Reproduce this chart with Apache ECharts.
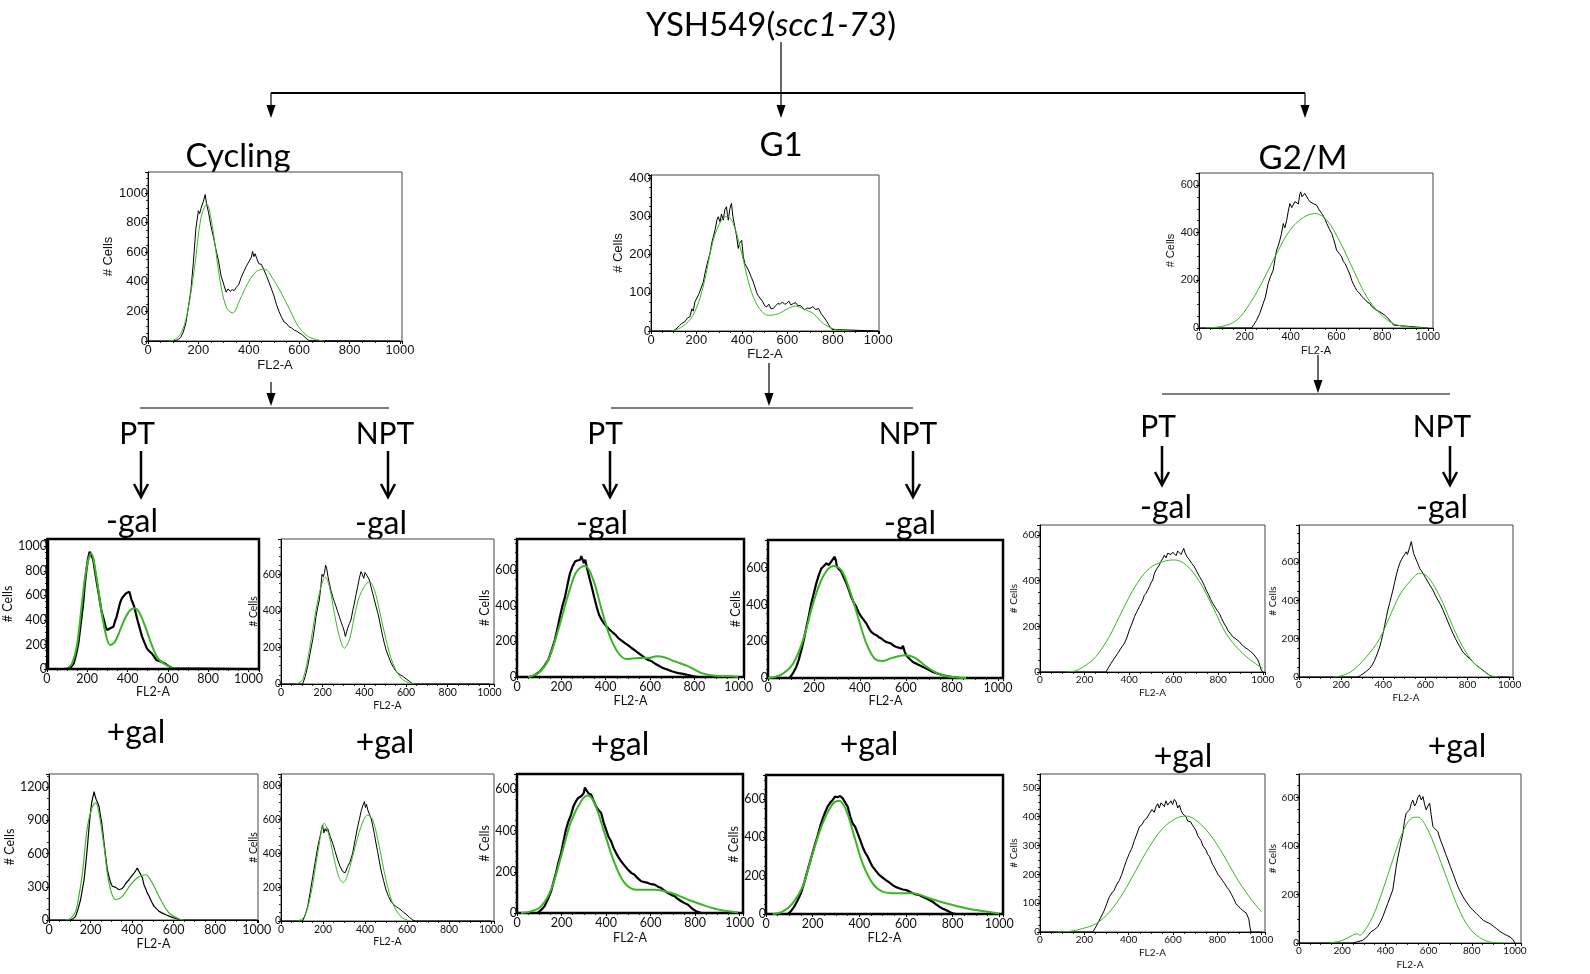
<!DOCTYPE html>
<html><head><meta charset="utf-8">
<script src="https://cdn.jsdelivr.net/npm/echarts/dist/echarts.min.js"></script>
<style>html,body{margin:0;padding:0;background:#fff}#c{width:1590px;height:974px}</style>
</head><body><div id="c"></div>
<script>
// ===== DATA: [FL2-A, #Cells] =====
// Top row
const cycTopK=[[0,0],[100,0],[110,3],[120,10],[130,25],[140,60],[150,120],[160,225],[170,340],[180,530],[190,760],[200,880],[205,860],[210,895],[220,945],[227,990],[232,930],[240,870],[250,775],[260,700],[270,615],[280,540],[290,440],[300,385],[310,330],[318,352],[326,335],[334,348],[342,340],[350,362],[360,380],[370,430],[380,468],[390,505],[400,535],[410,565],[415,605],[420,570],[425,590],[432,556],[440,522],[450,518],[460,480],[470,440],[480,398],[490,352],[500,305],[510,245],[520,200],[530,160],[540,128],[550,118],[560,96],[570,88],[580,74],[590,66],[600,55],[610,45],[620,30],[630,15],[640,2],[1000,0]];
const cycTopG=[[80,0],[100,5],[130,50],[155,180],[185,500],[210,830],[233,925],[255,780],[283,440],[310,230],[336,190],[365,280],[396,390],[430,470],[463,485],[496,420],[530,320],[563,210],[596,100],[636,30],[680,5],[700,0]];
const g1TopK=[[0,0],[97,0],[110,5],[125,14],[134,19],[150,25],[160,34],[171,37],[180,58],[186,52],[193,76],[200,78],[210,96],[222,115],[230,128],[240,158],[251,185],[260,205],[268,232],[274,246],[282,265],[290,290],[296,299],[304,285],[310,306],[318,290],[325,318],[332,325],[336,305],[340,290],[347,320],[354,334],[360,300],[369,272],[376,250],[384,216],[390,230],[399,237],[406,195],[413,176],[420,172],[428,160],[435,159],[442,140],[450,128],[457,115],[465,100],[472,92],[479,89],[490,78],[500,66],[509,63],[518,70],[528,58],[538,59],[548,66],[558,72],[568,70],[578,76],[588,70],[597,72],[606,78],[616,68],[626,72],[636,74],[646,66],[656,67],[666,62],[676,55],[688,60],[700,59],[712,64],[724,56],[737,59],[748,46],[759,37],[770,28],[780,18],[788,10],[796,4],[803,0],[1000,0]];
const g1TopG=[[90,0],[134,10],[185,41],[229,115],[274,238],[310,290],[335,300],[362,281],[399,203],[435,115],[472,63],[516,41],[560,45],[600,58],[634,65],[670,58],[715,45],[759,19],[818,3],[876,0]];
const g2TopK=[[0,0],[229,0],[240,15],[251,32],[265,60],[280,102],[290,130],[302,186],[312,215],[324,242],[332,290],[339,326],[346,345],[353,368],[360,395],[368,438],[375,420],[383,452],[390,490],[397,522],[405,505],[412,500],[419,530],[426,536],[434,520],[440,560],[444,571],[450,550],[455,543],[462,565],[470,557],[477,540],[485,529],[492,535],[499,522],[507,528],[514,515],[522,500],[529,495],[536,480],[544,468],[551,455],[558,438],[565,445],[572,410],[580,396],[587,375],[594,352],[601,326],[608,322],[616,308],[623,298],[630,280],[638,270],[645,256],[652,240],[660,222],[667,200],[674,185],[682,170],[689,158],[696,150],[704,142],[711,132],[718,130],[725,120],[733,110],[740,104],[747,102],[755,90],[762,82],[770,78],[777,74],[785,70],[792,66],[799,62],[806,60],[814,52],[821,44],[828,38],[835,32],[842,22],[850,12],[857,4],[1000,0]];
const g2TopG=[[32,0],[105,8],[164,32],[222,102],[280,200],[339,312],[397,410],[455,463],[507,480],[558,452],[616,361],[675,242],[733,130],[791,60],[850,18],[923,4],[996,0]];
// Middle row (-gal)
const cycPtMinusK=[[0,0],[109,0],[120,15],[133,46],[145,120],[156,209],[168,370],[180,535],[188,690],[196,807],[204,900],[212,957],[218,930],[223,943],[229,900],[235,834],[247,710],[259,590],[271,470],[283,400],[291,345],[299,318],[307,330],[314,332],[322,338],[330,345],[338,390],[346,427],[354,480],[362,535],[370,570],[378,590],[386,600],[393,617],[401,622],[409,630],[414,645],[420,562],[426,540],[433,508],[441,455],[449,400],[460,335],[472,264],[484,215],[496,168],[508,145],[520,128],[532,100],[543,73],[555,66],[567,60],[580,48],[590,40],[599,33],[610,18],[622,5],[630,0],[1000,0]];
const cycPtMinusG=[[85,0],[105,10],[125,46],[148,182],[172,508],[196,820],[220,943],[243,780],[267,508],[291,291],[314,196],[338,223],[370,345],[401,454],[433,495],[456,467],[488,345],[520,196],[551,87],[591,33],[630,5],[650,0]];
const cycNptMinusK=[[0,0],[104,0],[116,40],[128,96],[140,170],[152,242],[160,300],[168,369],[176,420],[184,460],[190,520],[197,600],[203,587],[209,610],[214,650],[219,633],[225,590],[232,551],[240,510],[248,478],[256,450],[264,424],[272,395],[280,369],[288,340],[296,315],[303,290],[309,260],[315,285],[320,305],[328,330],[336,351],[344,400],[352,442],[360,490],[368,533],[376,580],[384,615],[390,600],[397,578],[403,610],[408,615],[414,590],[418,600],[424,569],[432,530],[440,496],[448,460],[456,424],[464,390],[472,351],[480,305],[488,260],[496,222],[504,187],[516,150],[528,115],[540,90],[552,69],[566,55],[584,42],[600,28],[616,15],[632,0],[1000,0]];
const cycNptMinusG=[[72,0],[104,24],[136,187],[168,405],[192,533],[213,584],[232,533],[256,387],[280,260],[304,196],[328,242],[352,369],[376,478],[400,533],[424,560],[448,515],[472,405],[504,242],[536,115],[576,33],[616,5],[640,0]];
const g1PtMinusK=[[0,0],[59,0],[80,10],[104,32],[122,60],[141,97],[156,150],[171,209],[182,270],[194,340],[205,400],[217,452],[228,520],[239,583],[250,620],[262,649],[272,655],[284,658],[290,680],[296,673],[302,640],[308,660],[314,621],[325,565],[337,508],[348,450],[359,396],[370,350],[382,321],[393,300],[404,284],[415,270],[427,256],[442,240],[457,219],[472,205],[487,191],[502,178],[517,163],[532,150],[547,135],[562,122],[577,107],[592,96],[608,88],[623,75],[638,65],[653,54],[668,46],[683,40],[698,32],[713,27],[728,22],[743,19],[758,15],[773,11],[788,7],[803,3],[818,0],[1000,0]];
const g1PtMinusG=[[51,0],[96,22],[141,97],[186,265],[233,471],[269,593],[307,626],[344,546],[382,378],[419,228],[457,135],[494,101],[547,107],[592,107],[629,116],[667,110],[712,88],[773,60],[833,22],[893,7],[968,4],[998,0]];
const g1NptMinusK=[[0,0],[94,0],[108,25],[123,60],[134,100],[145,151],[156,210],[167,278],[178,340],[188,405],[199,460],[210,515],[221,560],[232,596],[243,610],[254,624],[265,615],[275,633],[283,640],[290,660],[295,640],[300,605],[310,590],[319,578],[330,545],[341,515],[352,478],[362,442],[373,410],[384,387],[395,355],[406,333],[417,315],[428,296],[439,270],[449,251],[460,240],[471,233],[482,222],[493,215],[503,205],[514,196],[525,192],[536,187],[547,175],[558,169],[570,165],[580,160],[587,175],[594,145],[601,124],[615,105],[630,87],[645,78],[659,69],[674,60],[688,51],[703,42],[717,33],[739,24],[761,15],[782,9],[804,5],[833,0],[1000,0]];
const g1NptMinusG=[[0,0],[30,5],[65,24],[109,78],[152,205],[196,405],[239,551],[283,609],[319,587],[355,478],[391,333],[428,187],[464,105],[500,93],[543,111],[594,124],[638,111],[681,69],[725,33],[775,9],[862,0]];
const g2PtMinusK=[[0,0],[296,0],[305,15],[319,38],[334,60],[349,82],[364,105],[379,126],[390,150],[401,184],[412,210],[424,242],[435,265],[446,286],[454,300],[461,315],[468,335],[476,345],[484,360],[491,374],[498,390],[506,403],[513,430],[521,447],[528,455],[536,469],[543,485],[550,495],[558,512],[566,500],[573,520],[581,527],[588,515],[596,525],[603,520],[611,510],[618,530],[626,527],[633,515],[640,530],[645,542],[652,520],[660,505],[671,491],[682,475],[693,461],[704,440],[716,418],[727,400],[738,378],[746,359],[756,340],[766,318],[775,301],[785,285],[795,270],[805,257],[815,235],[825,215],[835,199],[845,180],[855,168],[865,155],[875,148],[885,140],[895,133],[905,120],[915,112],[925,104],[935,98],[945,90],[955,82],[965,70],[972,65],[978,53],[985,35],[993,9],[1000,0]];
const g2PtMinusG=[[117,0],[162,6],[207,31],[251,67],[311,155],[371,272],[431,381],[491,454],[551,483],[603,491],[656,469],[716,396],[775,286],[835,169],[895,96],[955,45],[1000,16]];
const g2NptMinusK=[[0,0],[280,0],[292,8],[304,17],[320,30],[335,44],[347,62],[359,87],[371,120],[383,157],[391,190],[399,227],[407,270],[415,314],[422,350],[430,384],[438,420],[446,454],[454,495],[462,532],[470,565],[478,593],[486,612],[494,628],[501,640],[509,654],[515,640],[520,646],[526,680],[533,707],[538,680],[544,646],[550,630],[557,611],[565,590],[573,567],[581,555],[589,541],[600,520],[612,497],[624,475],[636,454],[648,425],[660,401],[672,378],[684,349],[696,318],[707,288],[719,258],[731,227],[743,200],[755,175],[767,152],[778,131],[794,112],[810,96],[826,78],[842,61],[858,48],[873,35],[889,22],[905,9],[921,0],[1000,0]];
const g2NptMinusG=[[161,0],[209,9],[256,35],[320,105],[383,201],[430,314],[478,428],[525,497],[573,541],[604,532],[644,471],[684,384],[731,262],[778,157],[826,79],[873,35],[905,9],[945,0]];
// Bottom row (+gal)
const cycPtPlusK=[[0,0],[104,0],[116,12],[128,33],[140,100],[152,183],[160,270],[169,364],[177,510],[185,665],[191,800],[196,905],[201,990],[205,1056],[211,1110],[217,1161],[222,1120],[228,1086],[234,1060],[241,1026],[247,950],[254,875],[260,780],[265,695],[273,570],[281,454],[289,390],[297,334],[305,305],[313,289],[321,295],[329,280],[337,274],[345,290],[353,285],[361,304],[369,330],[377,340],[385,364],[393,385],[401,400],[409,424],[417,445],[425,469],[433,440],[441,424],[449,385],[457,319],[465,285],[473,245],[482,214],[490,180],[498,150],[506,123],[518,100],[530,78],[546,62],[562,48],[578,35],[594,24],[610,14],[626,6],[640,0],[1000,0]];
const cycPtPlusG=[[80,0],[104,15],[128,78],[145,230],[161,424],[185,845],[209,1026],[225,1060],[241,965],[265,665],[289,334],[321,183],[353,214],[393,319],[433,394],[465,409],[497,334],[538,183],[578,63],[626,9],[650,0]];
const cycNptPlusK=[[0,0],[103,0],[115,35],[127,85],[139,170],[151,262],[163,350],[175,439],[186,500],[193,540],[198,567],[204,520],[210,545],[216,530],[222,547],[234,500],[246,459],[258,410],[270,360],[282,320],[294,291],[300,300],[306,285],[317,321],[329,350],[341,400],[353,480],[365,557],[373,600],[381,646],[389,680],[397,705],[402,670],[407,690],[413,656],[421,630],[429,606],[437,560],[444,518],[452,460],[460,409],[468,355],[476,301],[488,240],[500,183],[512,145],[524,114],[536,98],[548,85],[560,75],[571,65],[583,52],[595,41],[611,22],[627,6],[640,0],[1000,0]];
const cycNptPlusG=[[79,0],[111,26],[143,163],[175,400],[206,577],[230,498],[254,360],[278,252],[297,228],[317,272],[349,419],[381,557],[413,626],[437,596],[468,439],[500,242],[532,104],[571,26],[611,0]];
const g1PtPlusK=[[0,0],[93,0],[108,15],[123,32],[138,65],[153,105],[164,150],[175,194],[186,245],[198,291],[209,350],[220,405],[231,445],[243,478],[254,520],[265,543],[276,560],[288,567],[299,580],[305,610],[310,599],[316,590],[322,580],[333,575],[344,545],[355,518],[366,500],[378,486],[389,440],[400,405],[411,370],[423,348],[434,315],[445,291],[456,270],[468,251],[483,230],[498,211],[513,195],[528,186],[543,168],[558,154],[573,150],[588,146],[603,140],[618,138],[633,128],[648,121],[663,108],[678,97],[693,88],[708,81],[723,68],[738,57],[753,48],[768,40],[786,22],[805,8],[828,0],[1000,0]];
const g1PtPlusG=[[18,0],[63,8],[108,32],[153,113],[198,275],[243,445],[288,543],[318,570],[348,534],[393,389],[438,243],[483,146],[535,113],[618,113],[693,97],[768,65],[843,36],[918,13],[993,3]];
const g1NptPlusK=[[0,0],[93,0],[107,15],[121,38],[135,70],[150,108],[164,165],[179,230],[193,290],[207,351],[222,410],[236,473],[250,520],[264,560],[275,580],[286,595],[296,612],[307,609],[318,615],[329,603],[340,580],[350,560],[361,510],[371,473],[382,455],[393,421],[404,385],[414,351],[425,320],[436,299],[447,270],[457,247],[471,225],[486,203],[500,190],[514,177],[528,165],[543,151],[557,140],[571,134],[586,128],[600,125],[614,118],[629,108],[643,102],[657,99],[671,90],[686,82],[700,73],[714,64],[729,50],[743,38],[757,28],[771,21],[786,12],[800,3],[815,0],[1000,0]];
const g1NptPlusG=[[29,0],[71,12],[114,56],[157,143],[200,317],[243,473],[286,574],[314,591],[343,543],[379,403],[414,264],[457,160],[500,117],[557,108],[629,108],[700,82],[771,56],[857,30],[929,16],[1000,3]];
const g2PtPlusK=[[0,0],[238,0],[249,14],[260,29],[275,52],[290,75],[302,100],[313,122],[324,135],[335,145],[346,165],[358,179],[369,200],[380,226],[391,250],[403,272],[414,290],[426,318],[437,340],[448,365],[460,372],[471,388],[482,395],[494,411],[505,425],[515,415],[523,434],[531,445],[538,430],[546,448],[553,451],[561,435],[568,455],[576,440],[583,434],[591,455],[598,442],[606,460],[614,451],[621,430],[629,440],[636,422],[644,410],[651,408],[659,399],[666,385],[673,390],[680,382],[688,370],[695,362],[703,353],[711,335],[719,325],[726,318],[734,300],[741,295],[749,284],[756,270],[764,262],[771,249],[778,235],[786,225],[793,214],[803,200],[813,190],[823,179],[833,168],[843,155],[854,145],[864,130],[874,115],[884,98],[894,90],[904,82],[914,75],[922,70],[930,66],[937,64],[942,45],[947,17],[952,0],[1000,0]];
const g2PtPlusG=[[72,0],[132,2],[192,12],[253,29],[313,69],[373,133],[433,214],[493,295],[553,359],[614,394],[659,402],[703,388],[764,341],[824,272],[884,191],[944,122],[1000,69]];
const g2NptPlusK=[[0,0],[248,0],[270,5],[295,11],[314,25],[333,46],[349,55],[364,66],[376,85],[388,108],[399,135],[411,163],[422,190],[434,218],[442,265],[450,314],[457,350],[465,383],[473,420],[481,452],[488,500],[496,535],[504,540],[512,549],[520,575],[527,590],[535,565],[543,577],[550,600],[558,611],[566,590],[574,604],[582,570],[589,549],[597,565],[605,577],[612,530],[620,480],[631,470],[643,459],[655,425],[667,397],[678,370],[690,342],[701,315],[713,287],[724,260],[736,232],[748,210],[760,190],[775,170],[791,149],[806,135],[822,121],[837,108],[853,94],[868,86],[884,80],[899,70],[915,59],[930,48],[946,39],[961,32],[977,25],[990,15],[1000,0]];
const g2NptPlusG=[[140,0],[202,11],[248,32],[271,38],[280,32],[295,39],[341,108],[388,218],[434,342],[481,459],[519,514],[550,519],[589,480],[636,383],[682,273],[729,163],[775,80],[822,32],[884,4],[946,0]];

// axis texts
const xName='FL2-A', yName='# Cells';

// ===== LAYOUT =====
const GREEN='#39b624';
const SANS='Liberation Sans', CAL='Lato';
const panels=[
 {k:cycTopK,g:cycTopG,box:[148,172,402,341],xMax:1008,yMax:1142,yInt:200,fs:13,ff:SANS,lw:1,gx:18,gy:19,nfs:13,yoff:3},
 {k:g1TopK,g:g1TopG,box:[651,175,879,331],xMax:1003,yMax:408,yInt:100,fs:13,ff:SANS,lw:1,gx:16,gy:12,nfs:13,yoff:3},
 {k:g2TopK,g:g2TopG,box:[1199,173,1433,328],xMax:1022,yMax:650,yInt:200,fs:11,ff:SANS,lw:1,gx:17,gy:12,nfs:11,yoff:2},
 {k:cycPtMinusK,g:cycPtMinusG,box:[37,539,259,669],xMax:1052,yMax:1060,yInt:200,fs:12.5,ff:CAL,lw:2.2,thick:true,offBox:[48,539,259,669],gx:15,gy:12,nfs:12.5,yoff:6},
 {k:cycNptMinusK,g:cycNptMinusG,box:[281,539,494,684],xMax:1022,yMax:793,yInt:200,fs:10.5,ff:CAL,lw:1,gx:16,gy:9,nfs:10.5,yoff:2},
 {k:g1PtMinusK,g:g1PtMinusG,box:[517,539,744,677],xMax:1024,yMax:776,yInt:200,fs:12.5,ff:CAL,lw:2.2,thick:true,gx:17,gy:8,nfs:12.5,yoff:6},
 {k:g1NptMinusK,g:g1NptMinusG,box:[768,540,1003,678],xMax:1022,yMax:751,yInt:200,fs:12.5,ff:CAL,lw:2.2,thick:true,gx:16,gy:9,nfs:12.5,yoff:6},
 {k:g2PtMinusK,g:g2PtMinusG,box:[1040,525,1265,672],xMax:1010,yMax:644,yInt:200,fs:10,ff:CAL,lw:1,gx:16,gy:11,nfs:10,yoff:1},
 {k:g2NptMinusK,g:g2NptMinusG,box:[1299,525,1513,677],xMax:1016,yMax:794,yInt:200,fs:10,ff:CAL,lw:1,gx:16,gy:11,nfs:10,yoff:1},
 {k:cycPtPlusK,g:cycPtPlusG,box:[49,774,258,920],xMax:1006,yMax:1320,yInt:300,fs:12.5,ff:CAL,lw:1.2,gx:17,gy:10,nfs:12.5,yoff:5},
 {k:cycNptPlusK,g:cycNptPlusG,box:[281,774,494,921],xMax:1014,yMax:868,yInt:200,fs:10.5,ff:CAL,lw:1,gx:14,gy:9,nfs:10.5,yoff:2},
 {k:g1PtPlusK,g:g1PtPlusG,box:[517,774,743,913],xMax:1015,yMax:675,yInt:200,fs:12.5,ff:CAL,lw:2.2,thick:true,gx:18,gy:8,nfs:12.5,yoff:5},
 {k:g1NptPlusK,g:g1NptPlusG,box:[766,775,1003,914],xMax:1016,yMax:725,yInt:200,fs:12.5,ff:CAL,lw:2.2,thick:true,gx:17,gy:10,nfs:12.5,yoff:5},
 {k:g2PtPlusK,g:g2PtPlusG,box:[1040,774,1265,932],xMax:1015,yMax:548,yInt:100,fs:10,ff:CAL,lw:1,gx:16,gy:11,nfs:10,yoff:2},
 {k:g2NptPlusK,g:g2NptPlusG,box:[1299,774,1521,943],xMax:1028,yMax:697,yInt:200,fs:10,ff:CAL,lw:1,gx:17,gy:11,nfs:10,yoff:2}
];

const grids=[],xAxes=[],yAxes=[],series=[],graphics=[];
panels.forEach((p,i)=>{
  const [l,t,r,b]=p.box;
  grids.push({left:l,top:t,width:r-l,height:b-t,show:true,backgroundColor:'#fff',
    borderColor:p.thick?'#000':'#444',borderWidth:p.offBox?0:(p.thick?2.5:1)});
  const mk=step=>v=>(Math.abs(v%step)<1e-6?String(v):'');
  const axisCommon=(isX)=>({
    gridIndex:i,type:'value',min:0,max:isX?p.xMax:p.yMax,interval:isX?200:p.yInt,
    axisLine:{show:true,onZero:false,lineStyle:{color:'#000',width:p.thick?2:1}},
    axisTick:{show:true,length:3,lineStyle:{color:'#000',width:1}},
    minorTick:{show:true,splitNumber:isX?4:(p.yInt===300?3:4),length:2,lineStyle:{color:'#000',width:0.8}},
    splitLine:{show:false},minorSplitLine:{show:false},
    axisLabel:{fontSize:p.fs,fontFamily:p.ff,color:'#111',margin:isX?3:0,
      padding:isX?0:[2*p.yoff,0,0,0],formatter:mk(isX?200:p.yInt)},
    name:isX?xName:yName,nameLocation:'middle',nameGap:isX?p.gx:p.gy,
    nameTextStyle:{fontSize:p.nfs,fontFamily:p.ff,color:'#111'}
  });
  xAxes.push(axisCommon(true));
  yAxes.push(axisCommon(false));
  series.push({type:'line',xAxisIndex:i,yAxisIndex:i,data:p.k,showSymbol:false,symbol:'none',
    lineStyle:{color:'#000',width:p.lw},silent:true,z:3});
  series.push({type:'line',xAxisIndex:i,yAxisIndex:i,data:p.g,showSymbol:false,symbol:'none',smooth:0.35,
    lineStyle:{color:GREEN,width:p.thick?2:p.lw},silent:true,z:4});
  if(p.offBox){
    const [bl,bt,br,bb]=p.offBox;
    graphics.push({type:'rect',shape:{x:bl,y:bt,width:br-bl,height:bb-bt},
      style:{fill:null,stroke:'#000',lineWidth:2.5},z:20,silent:true});
  }
});

// ----- annotation texts & arrows -----
function txt(x,y,s,size){
  graphics.push({type:'text',x:x,y:y,z:-1,silent:true,
    style:{text:s,fontSize:size,fontFamily:CAL,fill:'#000',align:'center',verticalAlign:'middle'}});
}
function thinArrow(x,y1,y2){
  graphics.push({type:'line',shape:{x1:x,y1:y1,x2:x,y2:y2-10},style:{stroke:'#000',lineWidth:1.2},silent:true});
  graphics.push({type:'polygon',shape:{points:[[x-4.5,y2-13],[x+4.5,y2-13],[x,y2]]},style:{fill:'#000'},silent:true});
}
function thickArrow(x,y1,y2){
  graphics.push({type:'line',shape:{x1:x,y1:y1,x2:x,y2:y2-1},style:{stroke:'#000',lineWidth:2.5},silent:true});
  graphics.push({type:'polyline',shape:{points:[[x-7,y2-13],[x,y2],[x+7,y2-13]]},style:{stroke:'#000',lineWidth:2.5,fill:null},silent:true});
}
function hline(x1,x2,y,w){
  graphics.push({type:'line',shape:{x1:x1,y1:y,x2:x2,y2:y},style:{stroke:'#000',lineWidth:w},silent:true});
}

graphics.push({type:'text',x:771,y:25,z:-1,silent:true,
  style:{text:'{a|YSH549(}{i|scc1-73}{a|)}',align:'center',verticalAlign:'middle',fill:'#000',
    rich:{a:{fontSize:33,fontFamily:CAL,fill:'#000'},i:{fontSize:33,fontFamily:CAL,fontStyle:'italic',fill:'#000'}}}});
thinArrow(781,42,118);
hline(271,1305,93,2);
thinArrow(271,93,118);
thinArrow(1305,93,118);
txt(238,156,'Cycling',33);
txt(781,145,'G1',33);
txt(1303,158,'G2/M',33);

thinArrow(271,382,406); hline(140,389,408,1.2);
thinArrow(769,363,406); hline(611,913,408,1.2);
thinArrow(1318,355,393); hline(1162,1450,394,1.2);

txt(137,434,'PT',30); txt(385,434,'NPT',30);
txt(605,434,'PT',30); txt(908,434,'NPT',30);
txt(1158,427,'PT',30); txt(1442,427,'NPT',30);
thickArrow(141,451,497); thickArrow(388,451,497);
thickArrow(610,451,497); thickArrow(913,451,497);
thickArrow(1162,446,485); thickArrow(1450,446,485);

txt(132,522,'-gal',32); txt(381,524,'-gal',32);
txt(602,524,'-gal',32); txt(910,524,'-gal',32);
txt(1166,508,'-gal',32); txt(1442,508,'-gal',32);
txt(136,733,'+gal',32); txt(385,743,'+gal',32);
txt(620,745,'+gal',32); txt(869,745,'+gal',32);
txt(1183,757,'+gal',32); txt(1457,747,'+gal',32);

const chart=echarts.init(document.getElementById('c'),null,{renderer:'canvas'});
chart.setOption({animation:false,backgroundColor:'#fff',grid:grids,xAxis:xAxes,yAxis:yAxes,series:series,graphic:{elements:graphics}});
</script></body></html>
